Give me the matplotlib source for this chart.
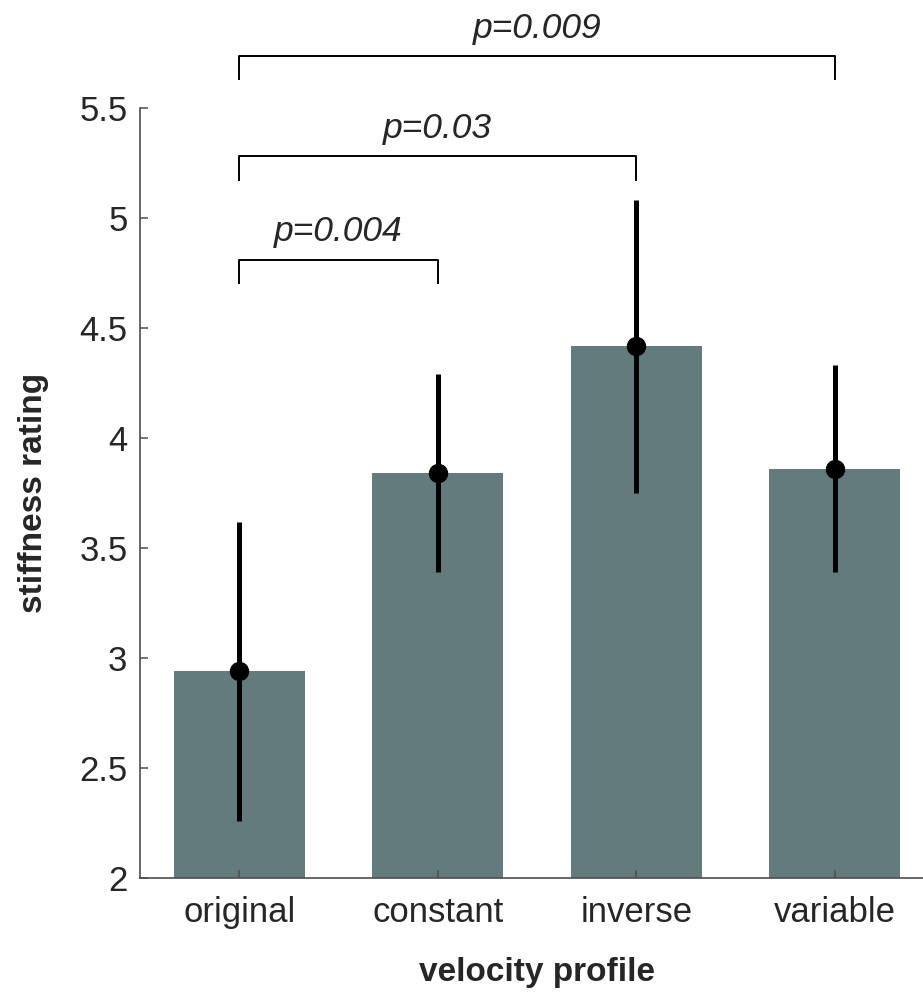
import numpy as np
import matplotlib
matplotlib.use("Agg")
import matplotlib.pyplot as plt

plt.rcParams['font.family'] = ['Liberation Sans', 'DejaVu Sans']

# data
profiles = ['original', 'constant', 'inverse', 'variable']
means = [2.94, 3.84, 4.42, 3.86]
err_low = [2.26, 3.39, 3.75, 3.39]
err_high = [3.62, 4.29, 5.08, 4.33]

# significance brackets: (from, to, level, label)
pairs = [(0, 1), (0, 2), (0, 3)]
bracket_y = [4.81, 5.28, 5.735]
p_labels = ['p=0.004', 'p=0.03', 'p=0.009']

bar_color = '#637b7d'
ink = '#262626'

fig = plt.figure(figsize=(9.23, 9.92), dpi=100)
ax = fig.add_axes([140/923, 1 - 878/992, 794/923, 770/992])

x = np.arange(1, len(profiles) + 1)
ax.bar(x, means, width=0.66, color=bar_color, zorder=1)

lo = np.array(means) - np.array(err_low)
hi = np.array(err_high) - np.array(means)
ax.errorbar(x, means, yerr=[lo, hi], fmt='o', color='black', ecolor='black',
            elinewidth=3.6, markersize=13, capsize=0, zorder=3)

drop = 0.105
for (a, b), yb, lab in zip(pairs, bracket_y, p_labels):
    xa, xb = x[a], x[b]
    ax.plot([xa, xa, xb, xb], [yb - drop, yb, yb, yb - drop], color='black',
            lw=1.4, clip_on=False, zorder=4)
    ax.text((xa + xb) / 2, yb + 0.085, lab, ha='center', va='baseline',
            fontsize=25.5, style='italic', color=ink, clip_on=False)

ax.set_xlim(0.5, 4.5)
ax.set_ylim(2, 5.5)
ax.set_yticks([2, 2.5, 3, 3.5, 4, 4.5, 5, 5.5])
ax.set_yticklabels(['2', '2.5', '3', '3.5', '4', '4.5', '5', '5.5'])
ax.set_xticks(x)
ax.set_xticklabels(profiles)

for side in ['top', 'right']:
    ax.spines[side].set_visible(False)
for side in ['left', 'bottom']:
    ax.spines[side].set_color('#4d4d4d')
    ax.spines[side].set_linewidth(1.2)
    ax.spines[side].set_zorder(5)

ax.tick_params(axis='both', direction='in', length=6, width=1.1, color='#4d4d4d',
               labelsize=25, labelcolor=ink)
ax.tick_params(axis='y', pad=9)
ax.tick_params(axis='x', pad=13)
for t in ax.get_xticklines():
    t.set_zorder(6)

ax.set_xlabel('velocity profile', fontsize=24, fontweight='bold', color=ink, labelpad=20)
ax.set_ylabel('stiffness rating', fontsize=24, fontweight='bold', color=ink, labelpad=22)

fig.savefig('out.png', dpi=100)
